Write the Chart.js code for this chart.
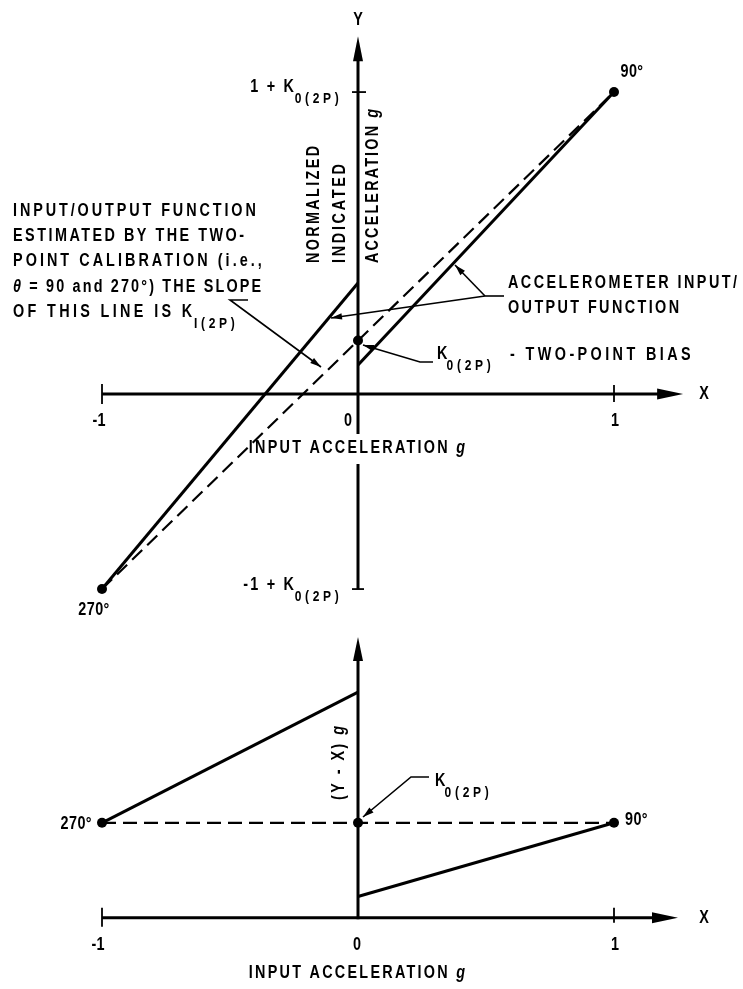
<!DOCTYPE html>
<html>
<head>
<meta charset="utf-8">
<script src="https://cdn.jsdelivr.net/npm/chart.js@4/dist/chart.umd.min.js"></script>
<style>
  html, body { margin: 0; padding: 0; background: #fff; }
  #wrap { position: relative; width: 743px; height: 989px; overflow: hidden; }
  canvas { position: absolute; left: 0; }
  #top { top: 0; }
  #bottom { top: 625px; }
</style>
</head>
<body>
<div id="wrap">
  <canvas id="top" width="743" height="625"></canvas>
  <canvas id="bottom" width="743" height="364"></canvas>
</div>
<script>
// Input acceleration positions (g) and their tick labels
const inputG = [-1, 0, 1];
const xTickLabels = ['-1', '0', '1'];

// Two-point bias K0(2P)
const biasK = 0.215;

// Normalized indicated acceleration Y
const estimatedY = [-0.785, 0.215, 1.215];      // two-point line through 270°, bias, 90°
const measuredLeftX = [-1, 0];
const measuredLeftY = [-0.785, 0.447];           // accelerometer branch, negative input
const measuredRightX = [0, 1];
const measuredRightY = [0.117, 1.215];           // accelerometer branch, positive input
const yTickValues = [1.215, -0.785];             // 1 + K0(2P), -1 + K0(2P)

// Error (Y - X) for the lower plot
const errorEstimated = [0.215, 0.215, 0.215];
const errorLeft = [0.215, 0.511];
const errorRight = [0.048, 0.215];

const FONT = '"Liberation Sans", Arial, sans-serif';
const INK = '#000';
const SQUEEZE = 0.8;    // narrow lettering
const SUB_LS = 4.6;     // spacing inside subscripts

function pts(xs, ys) { return xs.map((x, i) => ({ x, y: ys[i] })); }

function setLS(ctx, v) { try { ctx.letterSpacing = v + 'px'; } catch (e) {} }

// Draw a run of text pieces: [text, kind] where kind is '', 'sub' or 'it'.
// o.w stretches the letter spacing of the main pieces so the run covers that width.
function runs(ctx, parts, x, y, o = {}) {
  const size = o.size || 18;
  const sx = o.sx || SQUEEZE;
  ctx.save();
  ctx.fillStyle = INK;
  ctx.textBaseline = 'middle';
  ctx.textAlign = 'left';
  const fontFor = k => 'bold ' + (k === 'it' ? 'italic ' : '') + (k === 'sub' ? Math.round(size * 0.84) : size) + 'px ' + FONT;
  setLS(ctx, 0);
  let natural = 0, mainChars = 0, subChars = 0;
  parts.forEach(([t, k]) => {
    ctx.font = fontFor(k);
    natural += ctx.measureText(t).width;
    if (k === 'sub') subChars += [...t].length; else mainChars += [...t].length;
  });
  let ls = o.ls !== undefined ? o.ls : 3;
  const trailing = parts[parts.length - 1][1] === 'sub' ? 0 : 0.6;
  if (o.w) ls = (o.w / sx - natural - subChars * SUB_LS) / Math.max(1, mainChars - trailing);
  const lsFor = k => (k === 'sub' ? SUB_LS : ls);
  const widths = [];
  let total = 0;
  parts.forEach(([t, k]) => {
    ctx.font = fontFor(k); setLS(ctx, lsFor(k));
    const w = ctx.measureText(t).width; widths.push(w); total += w;
  });
  ctx.translate(x, y);
  if (o.rot) ctx.rotate(o.rot);
  ctx.scale(sx, 1);
  let cx = o.align === 'right' ? -total : (o.align === 'center' ? -total / 2 : 0);
  parts.forEach(([t, k], i) => {
    ctx.font = fontFor(k); setLS(ctx, lsFor(k));
    ctx.fillText(t, k === 'sub' ? cx - 2 : cx, k === 'sub' ? size * 0.68 : 0);
    cx += widths[i];
  });
  ctx.restore();
}

function seg(ctx, x1, y1, x2, y2, w) {
  ctx.save();
  ctx.strokeStyle = INK; ctx.lineWidth = w; ctx.lineCap = 'butt';
  ctx.beginPath(); ctx.moveTo(x1, y1); ctx.lineTo(x2, y2); ctx.stroke();
  ctx.restore();
}

function head(ctx, x1, y1, x2, y2, len, half) {
  const a = Math.atan2(y2 - y1, x2 - x1);
  ctx.save();
  ctx.fillStyle = INK;
  ctx.translate(x2, y2); ctx.rotate(a);
  ctx.beginPath(); ctx.moveTo(0, 0); ctx.lineTo(-len, -half); ctx.lineTo(-len, half); ctx.closePath(); ctx.fill();
  ctx.restore();
}

// Leader line with an arrowhead at its last point
function leader(ctx, path) {
  ctx.save();
  ctx.strokeStyle = INK; ctx.lineWidth = 1.6;
  ctx.beginPath();
  path.forEach(([px, py], i) => i ? ctx.lineTo(px, py) : ctx.moveTo(px, py));
  ctx.stroke();
  ctx.restore();
  const a = path[path.length - 2], b = path[path.length - 1];
  head(ctx, a[0], a[1], b[0], b[1], 11, 3.2);
}

const K0 = [['K', ''], ['0(2P)', 'sub']];

function drawTop(chart) {
  const { ctx, scales: { x, y } } = chart;
  const x0 = x.getPixelForValue(0), y0 = y.getPixelForValue(0);
  const xl = x.getPixelForValue(-1), xr = x.getPixelForValue(1);
  const xTip = x.getPixelForValue(1.27);
  const yTip = y.getPixelForValue(1.44);
  const yHi = y.getPixelForValue(yTickValues[0]);
  const yLo = y.getPixelForValue(yTickValues[1]);

  // X axis with arrow
  seg(ctx, xl, y0, xTip - 20, y0, 3);
  head(ctx, xl, y0, xTip, y0, 26, 5.5);
  seg(ctx, xl, y0 - 10, xl, y0 + 10, 1.8);
  seg(ctx, xr, y0 - 9, xr, y0 + 8, 1.8);

  // Y axis with arrow, broken where the X title crosses it
  const gapTop = y0 + 40, gapBot = y0 + 70;
  seg(ctx, x0, yTip + 20, x0, gapTop, 3);
  seg(ctx, x0, gapBot, x0, yLo, 3);
  head(ctx, x0, yLo, x0, yTip, 25, 5);
  seg(ctx, x0 - 6, yHi, x0 + 8, yHi, 1.8);
  seg(ctx, x0 - 6, yLo, x0 + 6, yLo, 1.8);
}

function labelsTop(chart) {
  const { ctx, scales: { x, y } } = chart;
  const x0 = x.getPixelForValue(0), y0 = y.getPixelForValue(0);
  const yHi = y.getPixelForValue(yTickValues[0]);
  const yLo = y.getPixelForValue(yTickValues[1]);

  runs(ctx, [['Y', '']], x0, 20, { align: 'center', ls: 0 });
  runs(ctx, [['X', '']], 704, y0, { align: 'center', ls: 0 });

  // tick labels
  inputG.forEach((v, i) => {
    const px = x.getPixelForValue(v) + (v === 0 ? -10 : (v < 0 ? -3 : 1));
    runs(ctx, [[xTickLabels[i], '']], px, y0 + 27, { align: 'center', ls: 0 });
  });
  runs(ctx, [['INPUT ACCELERATION ', ''], ['g', 'it']], x0, y0 + 54, { align: 'center', w: 217 });

  // Y tick labels
  runs(ctx, [['1 + ', '']].concat(K0), x0 - 14, yHi - 5, { align: 'right', ls: 2.8 });
  runs(ctx, [['-1 + ', '']].concat(K0), x0 - 14, yLo - 4, { align: 'right', ls: 2.8 });

  // Y title, three vertical lines
  const up = -Math.PI / 2;
  runs(ctx, [['NORMALIZED', '']], x0 - 44, 263, { rot: up, w: 118 });
  runs(ctx, [['INDICATED', '']], x0 - 18, 263, { rot: up, w: 100 });
  runs(ctx, [['ACCELERATION ', ''], ['g', 'it']], x0 + 15, 263, { rot: up, w: 155 });

  // point angles
  runs(ctx, [['90°', '']], x.getPixelForValue(1) + 18, 72, { align: 'center', ls: 0.5 });
  runs(ctx, [['270°', '']], x.getPixelForValue(-1) - 8, yLo + 21, { align: 'center', ls: 0.5 });

  // left note about the two-point estimate
  const note = [
    [[['INPUT/OUTPUT FUNCTION', '']], 244],
    [[['ESTIMATED BY THE TWO-', '']], 232],
    [[['POINT CALIBRATION (i.e.,', '']], 250],
    [[['θ', 'it'], [' = 90 and 270°) THE SLOPE', '']], 249],
    [[['OF THIS LINE IS K', ''], ['I(2P)', 'sub']], 227]
  ];
  const noteY = [211, 236, 261, 287, 312];
  note.forEach(([p, w], i) => runs(ctx, p, 13, noteY[i], { w }));
  leader(ctx, [[248, 300], [230, 300], [321, 367]]);

  // accelerometer function note
  runs(ctx, [['ACCELEROMETER INPUT/', '']], 508, 283, { w: 230 });
  runs(ctx, [['OUTPUT FUNCTION', '']], 508, 308, { w: 172 });
  seg(ctx, 485, 296, 504, 296, 1.6);
  leader(ctx, [[485, 296], [455, 265]]);
  leader(ctx, [[485, 296], [331, 318]]);

  // bias note
  runs(ctx, K0, 437, 354, { ls: 1 });
  runs(ctx, [['- TWO-POINT BIAS', '']], 510, 355, { w: 182 });
  leader(ctx, [[433, 362], [420, 362], [363, 345]]);
}

function drawBottom(chart) {
  const { ctx, scales: { x, y } } = chart;
  const x0 = x.getPixelForValue(0), y0 = y.getPixelForValue(0);
  const xl = x.getPixelForValue(-1), xr = x.getPixelForValue(1);
  const xTip = x.getPixelForValue(1.25);
  const yTip = y.getPixelForValue(0.636);

  seg(ctx, xl, y0, xTip - 20, y0, 3);
  head(ctx, xl, y0, xTip, y0, 26, 5.5);
  seg(ctx, xl, y0 - 10, xl, y0 + 9, 1.8);
  seg(ctx, xr, y0 - 10, xr, y0 + 5, 1.8);

  seg(ctx, x0, y0 + 1.5, x0, yTip + 20, 3);
  head(ctx, x0, y0, x0, yTip, 24, 5);
}

function labelsBottom(chart) {
  const { ctx, scales: { x, y } } = chart;
  const x0 = x.getPixelForValue(0), y0 = y.getPixelForValue(0);
  const yK = y.getPixelForValue(biasK);

  runs(ctx, [['X', '']], 704, y0, { align: 'center', ls: 0 });
  inputG.forEach((v, i) => {
    const px = x.getPixelForValue(v) + (v < 0 ? -4 : (v === 0 ? -1 : 1));
    runs(ctx, [[xTickLabels[i], '']], px, y0 + 27, { align: 'center', ls: 0 });
  });
  runs(ctx, [['INPUT ACCELERATION ', ''], ['g', 'it']], x0, y0 + 55, { align: 'center', w: 217 });

  runs(ctx, [['(Y - X) ', ''], ['g', 'it']], x0 - 19, 175, { rot: -Math.PI / 2, w: 75 });

  runs(ctx, [['270°', '']], x.getPixelForValue(-1) - 10, yK + 1, { align: 'right', ls: 0.5 });
  runs(ctx, [['90°', '']], x.getPixelForValue(1) + 11, yK - 3, { ls: 0.5 });

  runs(ctx, K0, 435, 156, { ls: 1 });
  leader(ctx, [[429, 152], [411, 152], [363, 192]]);
}

function plot(id, datasets, yMin, yMax, padding, under, over) {
  return new Chart(document.getElementById(id), {
    type: 'scatter',
    data: { datasets },
    options: {
      responsive: false,
      animation: false,
      devicePixelRatio: 1,
      events: [],
      layout: { padding },
      plugins: { legend: { display: false }, tooltip: { enabled: false } },
      scales: {
        x: { type: 'linear', min: -1.3, max: 1.3, display: false },
        y: { type: 'linear', min: yMin, max: yMax, display: false }
      }
    },
    plugins: [{
      id: 'frame-' + id,
      beforeDatasetsDraw: under,
      afterDatasetsDraw: over
    }]
  });
}

const solid = (data) => ({
  data, showLine: true, borderColor: INK, borderWidth: 3, pointRadius: 0, clip: false, tension: 0
});
const dashed = (data) => ({
  data, showLine: true, borderColor: INK, borderWidth: 2.2, borderDash: [14, 7],
  pointRadius: 5, pointBackgroundColor: INK, pointBorderColor: INK, pointBorderWidth: 0, clip: false, tension: 0
});

plot('top', [
  solid(pts(measuredLeftX, measuredLeftY)),
  solid(pts(measuredRightX, measuredRightY)),
  dashed(pts(inputG, estimatedY))
], -0.9, 1.5, { left: 25.2, right: 52.2, top: 21.25, bottom: 7.35 }, drawTop, labelsTop);

plot('bottom', [
  solid(pts(measuredLeftX, errorLeft)),
  solid(pts(measuredRightX, errorRight)),
  dashed(pts(inputG, errorEstimated))
], -0.15, 0.6, { left: 25.2, right: 52.2, top: 27.8, bottom: 4.7 }, drawBottom, labelsBottom);
</script>
</body>
</html>
